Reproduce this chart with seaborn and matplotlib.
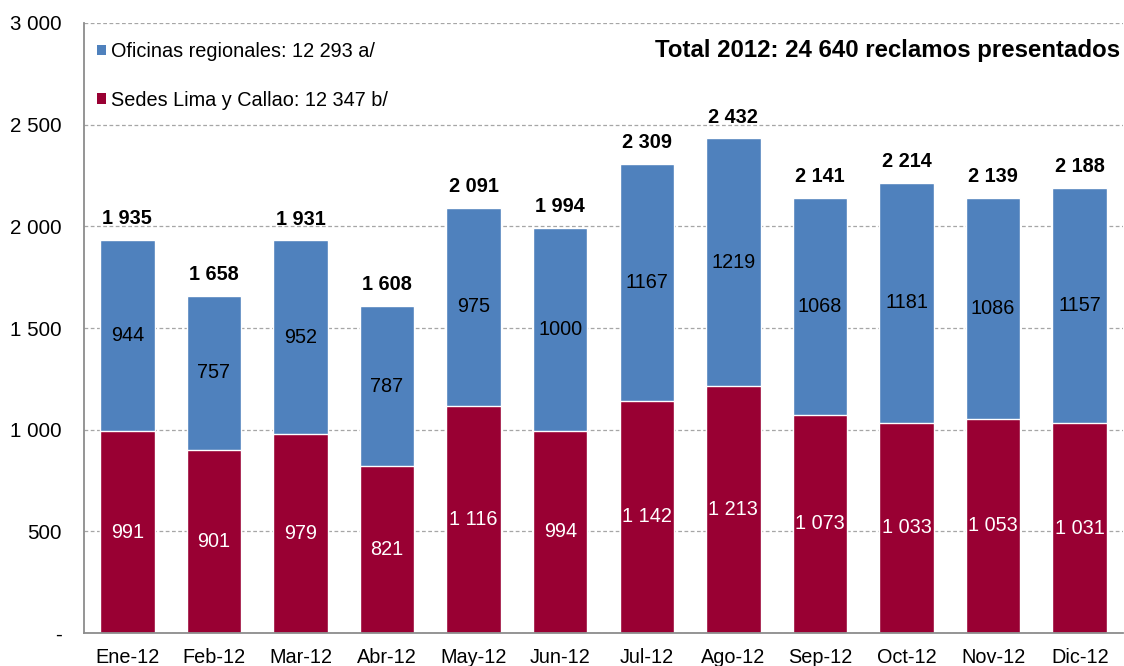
import matplotlib
matplotlib.use("Agg")
import matplotlib.pyplot as plt
import seaborn as sns
import pandas as pd
import numpy as np
from matplotlib.patches import Patch

months = ["Ene-12", "Feb-12", "Mar-12", "Abr-12", "May-12", "Jun-12",
          "Jul-12", "Ago-12", "Sep-12", "Oct-12", "Nov-12", "Dic-12"]
lima = [991, 901, 979, 821, 1116, 994, 1142, 1213, 1073, 1033, 1053, 1031]
regional = [944, 757, 952, 787, 975, 1000, 1167, 1219, 1068, 1181, 1086, 1157]
totals = [1935, 1658, 1931, 1608, 2091, 1994, 2309, 2432, 2141, 2214, 2139, 2188]
yticks = [0, 500, 1000, 1500, 2000, 2500, 3000]
ytick_labels = ["-", "500", "1 000", "1 500", "2 000", "2 500", "3 000"]
legend_labels = ["Oficinas regionales: 12 293 a/", "Sedes Lima y Callao: 12 347 b/"]
title = "Total 2012: 24 640 reclamos presentados"

BLUE = "#4F81BD"
RED = "#990033"

sns.set_theme(style="white")
plt.rcParams["font.family"] = ["Liberation Sans", "DejaVu Sans"]
plt.rcParams["text.color"] = "black"
plt.rcParams["xtick.labelcolor"] = "black"
plt.rcParams["ytick.labelcolor"] = "black"

df = pd.DataFrame({"mes": months, "lima": lima, "total": [l + r for l, r in zip(lima, regional)]})

fig = plt.figure(figsize=(11.24, 6.66), dpi=100)
ax = fig.add_axes([84 / 1124, 33 / 666, 1 - 84 / 1124 - 1 / 1124, (633 - 23) / 666])

sns.barplot(data=df, x="mes", y="total", color=BLUE, width=0.63, ax=ax, saturation=1)
sns.barplot(data=df, x="mes", y="lima", color=RED, width=0.63, ax=ax, saturation=1)

fs = 14.3
for i in range(len(months)):
    ax.text(i, lima[i] / 2, f"{lima[i]:,}".replace(",", " "), ha="center", va="center",
            color="white", fontsize=fs)
    ax.text(i, lima[i] + regional[i] / 2, f"{regional[i]}", ha="center", va="center",
            color="black", fontsize=fs)
    ax.text(i, totals[i] + 58, f"{totals[i]:,}".replace(",", " "), ha="center", va="bottom",
            color="black", fontsize=fs, fontweight="bold")

ax.set_ylim(0, 3000)
ax.set_xlim(-0.5, len(months) - 0.5)
ax.set_yticks(yticks)
ax.set_yticklabels(ytick_labels, fontsize=14.8)
ax.set_xticks(range(len(months)))
ax.set_xticklabels(months, fontsize=14.3)
ax.set_xlabel("")
ax.set_ylabel("")
ax.set_xticks(np.arange(-0.5, len(months), 1), minor=True)
ax.tick_params(axis="x", which="major", length=0, pad=11)
ax.tick_params(axis="x", which="minor", length=6, color="#8C8C8C", width=1.2, direction="out")
ax.tick_params(axis="y", which="major", length=6, color="#8C8C8C", width=1.2, direction="out", pad=10)
ax.grid(axis="y", color="#A6A6A6", linestyle=(0, (3, 2)), linewidth=0.9)
ax.set_axisbelow(True)
for s in ["top", "right"]:
    ax.spines[s].set_visible(False)
for s in ["left", "bottom"]:
    ax.spines[s].set_color("#8C8C8C")
    ax.spines[s].set_linewidth(1.3)

handles = [Patch(facecolor=BLUE, edgecolor="none"), Patch(facecolor=RED, edgecolor="none")]
ax.legend(handles, legend_labels, loc="upper left", bbox_to_anchor=(-0.005, 0.998), frameon=False,
          fontsize=fs, handlelength=0.45, handleheight=0.45, handletextpad=0.25,
          labelspacing=1.5, borderaxespad=0.5)

ax.text(0.997, 0.955, title, transform=ax.transAxes, ha="right", va="center",
        fontsize=17.3, fontweight="bold")

fig.savefig("out.png", dpi=100)
